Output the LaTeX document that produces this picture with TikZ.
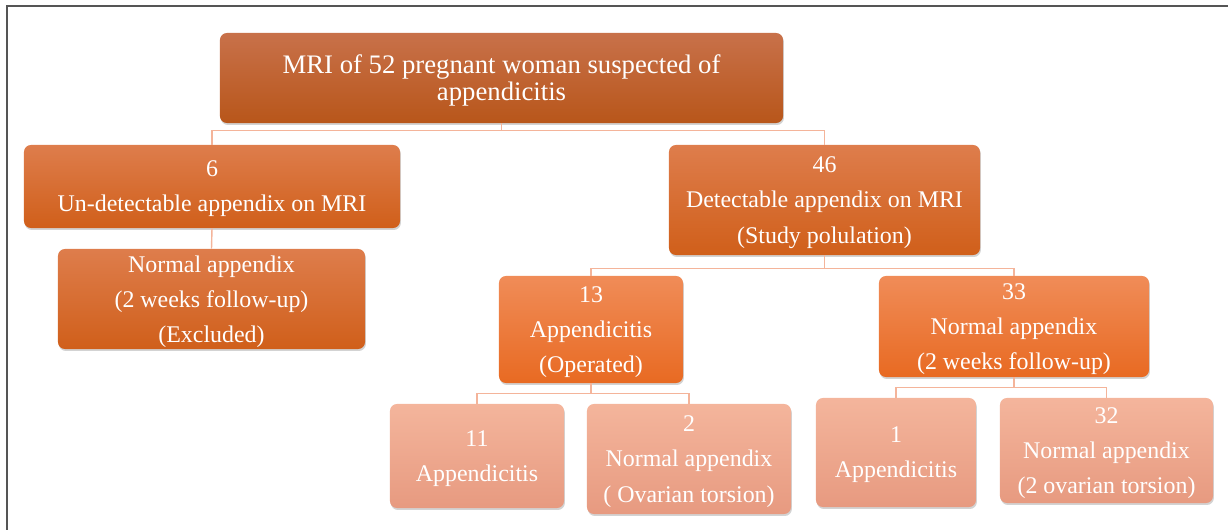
\documentclass[tikz,border=0pt]{standalone}
\usepackage{fontspec}
\setmainfont{LiberationSerif}[Extension=.ttf, UprightFont=*-Regular, BoldFont=*-Bold]
\usepackage{xcolor}
\definecolor{rusttop}{HTML}{C8714A}
\definecolor{rustbot}{HTML}{B8561A}
\definecolor{midtop}{HTML}{DE7D4C}
\definecolor{midbot}{HTML}{D05F1A}
\definecolor{brighttop}{HTML}{F08C58}
\definecolor{brightbot}{HTML}{E86A22}
\definecolor{paletop}{HTML}{F4B59C}
\definecolor{palebot}{HTML}{E79A80}
\definecolor{linkpink}{HTML}{F4B49A}
\definecolor{framegray}{HTML}{555555}
\usetikzlibrary{positioning,shadows}

\begin{document}
\begin{tikzpicture}[
  x=0.025cm, y=-0.025cm,
  box/.style={rounded corners=5pt, text=white, align=center, inner sep=2pt,
              text depth=0pt, font=\rmfamily\fontsize{17}{25}\selectfont,
              drop shadow={opacity=0.35, shadow xshift=0.6pt, shadow yshift=-1.4pt}},
  rootbox/.style={box, top color=rusttop, bottom color=rustbot,
                  font=\rmfamily\fontsize{19}{19.2}\selectfont},
  midbox/.style={box, top color=midtop, bottom color=midbot},
  brightbox/.style={box, top color=brighttop, bottom color=brightbot},
  palebox/.style={box, top color=paletop, bottom color=palebot},
  link/.style={linkpink, line width=1pt}
]
  \useasboundingbox (0,0) rectangle (1228,530);
  \draw[framegray, line width=1.5pt] (7,530) -- (7,6) -- (1228,6);

  \node[rootbox, minimum width=14.075cm, minimum height=2.25cm] (root) at (501.5,78)
        {MRI of 52 pregnant woman suspected of\\appendicitis};

  \node[midbox, minimum width=9.4cm, minimum height=2.075cm] (undet) at (212,186.5)
        {6\\Un-detectable appendix on MRI};
  \node[midbox, minimum width=7.775cm, minimum height=2.75cm] (det) at (824.5,200)
        {46\\Detectable appendix on MRI\\(Study polulation)};

  \node[midbox, minimum width=7.675cm, minimum height=2.5cm] (excl) at (211.5,299)
        {Normal appendix\\(2 weeks follow-up)\\(Excluded)};

  \node[brightbox, minimum width=4.6cm, minimum height=2.675cm] (oper) at (591,329.5)
        {13\\Appendicitis\\(Operated)};
  \node[brightbox, minimum width=6.75cm, minimum height=2.525cm] (follow) at (1014,326.5)
        {33\\Normal appendix\\(2 weeks follow-up)};

  \node[palebox, minimum width=4.35cm, minimum height=2.6cm] (appA) at (477,456)
        {11\\Appendicitis};
  \node[palebox, minimum width=5.1cm, minimum height=2.75cm] (torsA) at (689,459)
        {2\\Normal appendix\\( Ovarian torsion)};
  \node[palebox, minimum width=4.0cm, minimum height=2.725cm] (appB) at (896,452.5)
        {1\\Appendicitis};
  \node[palebox, minimum width=5.325cm, minimum height=2.625cm] (torsB) at (1106.5,450.5)
        {32\\Normal appendix\\(2 ovarian torsion)};

  \draw[link] (root.south) -- ++(0,7) -| (undet.north);
  \draw[link] (root.south) -- ++(0,7) -| (det.north);
  \draw[link] (undet.south) -- (excl.north);
  \draw[link] (det.south) -- ++(0,13) -| (oper.north);
  \draw[link] (det.south) -- ++(0,13) -| (follow.north);
  \draw[link] (oper.south) -- ++(0,10) -| (appA.north);
  \draw[link] (oper.south) -- ++(0,10) -| (torsA.north);
  \draw[link] (follow.south) -- ++(0,10) -| (appB.north);
  \draw[link] (follow.south) -- ++(0,10) -| (torsB.north);
\end{tikzpicture}
\end{document}
